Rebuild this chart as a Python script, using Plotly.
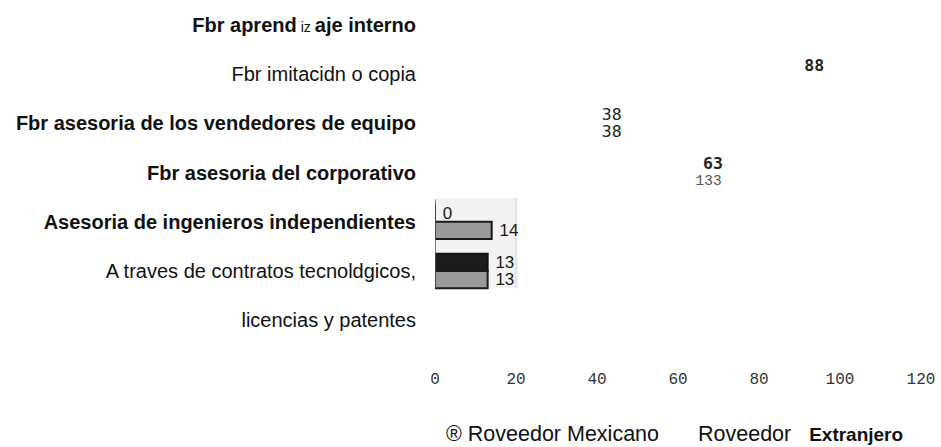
import plotly.graph_objects as go

# Source rows, top to bottom (the last category wraps onto two rows)
categories = [
    "Fbr aprendizaje interno",
    "Fbr imitacidn o copia",
    "Fbr asesoria de los vendedores de equipo",
    "Fbr asesoria del corporativo",
    "Asesoria de ingenieros independientes",
    "A traves de contratos tecnoldgicos,",
    "licencias y patentes",
]
tick_labels = [
    "<b>Fbr aprend</b>\u2009<span style='font-size:14px'>iz</span>\u2009<b>aje interno</b>",
    "Fbr imitacidn o copia",
    "<b>Fbr asesoria de los vendedores de equipo</b>",
    "<b>Fbr asesoria del corporativo</b>",
    "<b>Asesoria de ingenieros independientes</b>",
    "A traves de contratos tecnoldgicos,",
    "licencias y patentes",
]
series_names = [
    "® Roveedor Mexicano",
    "Roveedor&nbsp;&nbsp;&nbsp;<span style='font-size:19px'><b>Extranjero</b></span>",
]
mexicano = [None, 88, 38, 63, 0, 13, None]
extranjero = [None, None, 38, 133, 14, 13, None]
x_ticks = [0, 20, 40, 60, 80, 100, 120]

# Styling per row: only the two lowest groups show filled bars
filled_rows = [False, False, False, False, True, True, False]
bold_label_m = [False, True, False, True, False, False, False]
bold_label_e = [False, False, False, False, False, False, False]
scan_font = "Liberation Sans, Arial, sans-serif"
mono_font = "DejaVu Sans Mono, monospace"
light_mono = "Liberation Mono, monospace"


def bar_texts(values, bold):
    out = []
    for v, b in zip(values, bold):
        if v is None:
            out.append("")
            continue
        s = "\u00a0" + str(v)
        out.append("<b>" + s + "</b>" if b else s)
    return out


def text_fonts(values):
    fam, size, col = [], [], []
    for v, filled in zip(values, filled_rows):
        if filled:
            fam.append(scan_font); size.append(17); col.append("#1a1a1a")
        elif v is not None and v > 120:
            fam.append(light_mono); size.append(14.5); col.append("#555555")
        else:
            fam.append(mono_font); size.append(16.5); col.append("#222222")
    return dict(family=fam, size=size, color=col)


def positions(values):
    return ["inside" if (v is not None and v > 120) else "outside" for v in values]


fig = go.Figure()
fig.add_trace(go.Bar(
    y=categories, x=mexicano, orientation="h", name=series_names[0],
    text=bar_texts(mexicano, bold_label_m), textposition=positions(mexicano),
    textfont=text_fonts(mexicano), constraintext="none", insidetextanchor="middle",
    marker=dict(
        color=["#1c1c1c" if f else "rgba(0,0,0,0)" for f in filled_rows],
        line=dict(color=["#111111" if f else "rgba(0,0,0,0)" for f in filled_rows],
                  width=[2 if f else 0 for f in filled_rows]),
    ),
    hoverinfo="skip",
))
fig.add_trace(go.Bar(
    y=categories, x=extranjero, orientation="h", name=series_names[1],
    text=bar_texts(extranjero, bold_label_e), textposition=positions(extranjero),
    textfont=text_fonts(extranjero), constraintext="none", insidetextanchor="middle",
    marker=dict(
        color=["#9a9a9a" if f else "rgba(0,0,0,0)" for f in filled_rows],
        line=dict(color=["#1a1a1a" if f else "rgba(0,0,0,0)" for f in filled_rows],
                  width=[2 if f else 0 for f in filled_rows]),
    ),
    hoverinfo="skip",
))

# Light backing panel and axis stub behind the two filled groups
fig.add_shape(type="rect", xref="x", yref="y", x0=0, x1=20.4, y0=3.52, y1=5.35,
              fillcolor="#f3f3f3", line=dict(width=0), layer="below")
fig.add_shape(type="line", xref="x", yref="y", x0=20, x1=20, y0=3.52, y1=5.35,
              line=dict(color="#d6d6d6", width=1), layer="below")
fig.add_shape(type="line", xref="x", yref="y", x0=0, x1=0, y0=3.55, y1=5.35,
              line=dict(color="#555555", width=1.5), layer="above")

fig.update_layout(
    width=941, height=447,
    margin=dict(l=435, r=20, t=0, b=102, autoexpand=False),
    paper_bgcolor="white", plot_bgcolor="white",
    barmode="group", bargap=0.3, bargroupgap=0,
    showlegend=True,
    legend=dict(
        orientation="h", x=-0.0597, xanchor="left", y=-0.254, yanchor="middle",
        font=dict(family=scan_font, size=21.5, color="#111111"),
        itemwidth=30, entrywidth=207, bgcolor="rgba(0,0,0,0)",
    ),
    font=dict(family=scan_font, color="#111111"),
)
fig.update_xaxes(
    range=[0, 120], tickvals=x_ticks, ticktext=[str(t) for t in x_ticks],
    showgrid=False, zeroline=False, showline=False, ticks="",
    tickfont=dict(family=light_mono, size=16, color="#333333"),
    ticklabelstandoff=22, fixedrange=True,
)
fig.update_yaxes(
    type="category", categoryorder="array", categoryarray=categories,
    tickvals=categories, ticktext=tick_labels,
    autorange="reversed", showgrid=False, zeroline=False, showline=False, ticks="",
    tickfont=dict(family=scan_font, size=20, color="#111111"),
    ticklabelstandoff=18, fixedrange=True,
)

fig.write_html("out.html")
